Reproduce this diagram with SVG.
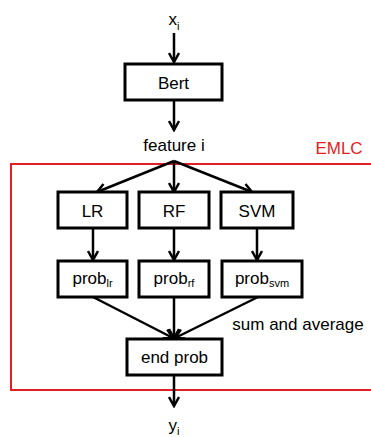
<svg xmlns="http://www.w3.org/2000/svg" width="371" height="437" viewBox="0 0 371 437">
<style>
text{font-family:"Liberation Sans",Arial,sans-serif;font-size:17px;fill:#000;text-anchor:middle}
.box{fill:#fff;stroke:#000;stroke-width:3}
.edge{stroke:#000;stroke-width:2.5;fill:none}
.sub{font-size:11px}
.red{fill:#e31e24}
</style>
<defs>
<marker id="ah" viewBox="0 0 12 12" refX="10.5" refY="6" markerWidth="12" markerHeight="12" markerUnits="userSpaceOnUse" orient="auto">
<path d="M1.5,1 L10.5,6 L1.5,11" fill="none" stroke="#000" stroke-width="2.5"/>
</marker>
</defs>
<rect width="371" height="437" fill="#fff"/>
<g id="emlc">
<rect x="11" y="164" width="370" height="226" fill="none" stroke="#e31e24" stroke-width="2"/>
<text x="339" y="154" class="red" font-size="16">EMLC</text>
</g>
<g id="connectors">
<line class="edge" x1="174" y1="33" x2="174" y2="62" marker-end="url(#ah)"/>
<line class="edge" x1="174" y1="100" x2="174" y2="130" marker-end="url(#ah)"/>
<line class="edge" x1="174" y1="161" x2="97" y2="192" marker-end="url(#ah)"/>
<line class="edge" x1="174" y1="161" x2="174" y2="192" marker-end="url(#ah)"/>
<line class="edge" x1="174" y1="161" x2="252" y2="192" marker-end="url(#ah)"/>
<line class="edge" x1="93" y1="228" x2="93" y2="260" marker-end="url(#ah)"/>
<line class="edge" x1="174" y1="228" x2="174" y2="260" marker-end="url(#ah)"/>
<line class="edge" x1="257" y1="228" x2="257" y2="260" marker-end="url(#ah)"/>
<line class="edge" x1="93" y1="297" x2="173" y2="338" marker-end="url(#ah)"/>
<line class="edge" x1="174" y1="297" x2="174" y2="338" marker-end="url(#ah)"/>
<line class="edge" x1="258" y1="297" x2="175" y2="338" marker-end="url(#ah)"/>
<line class="edge" x1="174" y1="375" x2="174" y2="406" marker-end="url(#ah)"/>
</g>
<g id="xi"><text x="174" y="25">x<tspan class="sub" dy="5">i</tspan></text></g>
<g id="bert"><rect class="box" x="125" y="64" width="97" height="36"/><text x="173.5" y="89">Bert</text></g>
<g id="feature"><text x="174" y="151">feature i</text></g>
<g id="lr"><rect class="box" x="58" y="192" width="69" height="36"/><text x="92.5" y="217">LR</text></g>
<g id="rf"><rect class="box" x="139" y="192" width="70" height="36"/><text x="174" y="217">RF</text></g>
<g id="svm"><rect class="box" x="221" y="192" width="72" height="36"/><text x="257" y="217">SVM</text></g>
<g id="problr"><rect class="box" x="58" y="261" width="69" height="36"/><text x="92.5" y="284">prob<tspan class="sub" dy="3">lr</tspan></text></g>
<g id="probrf"><rect class="box" x="139" y="261" width="70" height="36"/><text x="174" y="284">prob<tspan class="sub" dy="3">rf</tspan></text></g>
<g id="probsvm"><rect class="box" x="222" y="261" width="80" height="36"/><text x="262" y="284">prob<tspan class="sub" dy="3">svm</tspan></text></g>
<g id="sumavg"><text x="298" y="330">sum and average</text></g>
<g id="endprob"><rect class="box" x="127" y="339" width="95" height="36"/><text x="174.5" y="363">end prob</text></g>
<g id="yi"><text x="174" y="431">y<tspan class="sub" dy="4">i</tspan></text></g>
</svg>
